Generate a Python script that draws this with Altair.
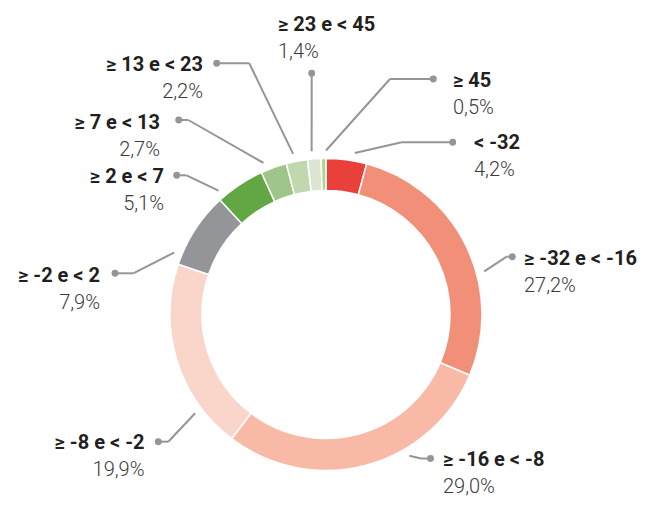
import math
import altair as alt
import pandas as pd

# ---------------- data ----------------
categories = ["< -32", "≥ -32 e < -16", "≥ -16 e < -8", "≥ -8 e < -2", "≥ -2 e < 2",
              "≥ 2 e < 7", "≥ 7 e < 13", "≥ 13 e < 23", "≥ 23 e < 45", "≥ 45"]
shares = [4.2, 27.2, 29.0, 19.9, 7.9, 5.1, 2.7, 2.2, 1.4, 0.5]
colors = ["#e9403b", "#f28f78", "#f8b9a6", "#fad5c9", "#939598",
          "#63a745", "#a0c58b", "#c1d8ae", "#dbe7d2", "#b0d48b"]

# ---------------- layout (page pixels) ----------------
W, H = 631, 490
OFF = 8
CX, CY = 326 - OFF, 314.5 - OFF
R_OUT, R_IN, R_LEAD = 156, 124, 164
label_x = [474, 524, 443, 144.5, 100, 164, 160, 203, 278, 453]
label_y = [149, 265, 466, 449.3, 282.3, 183, 128.7, 71, 31, 87.3]
label_align = ["left", "left", "left", "right", "right", "right", "right", "right", "left", "left"]
dot_x = [452.7, 512.3, 430.5, 158.3, 115, 176.7, 178.7, 216.7, 311.7, 433.3]
dot_y = [142.3, 256.7, 458.5, 441.7, 273.3, 175.3, 120, 63.3, 73.3, 79]
elbow_x = [401.7, 506.7, 421, 168.3, 133.3, 186.5, 188.3, 249.3, 311.7, 390]
lead_frac = [0.67, 0.61, 0.35, 0.22, 0.12, 0.10, 0.21, 0.40, 0.36, 1.0]
PCT_GAP = 27
FONT_SIZE = 20

total = sum(shares)
rows = []
cum = 0.0
for i, (c, v) in enumerate(zip(categories, shares)):
    ang = 2 * math.pi * (cum + lead_frac[i] * v) / total
    rx = CX + R_LEAD * math.sin(ang)
    ry = CY - R_LEAD * math.cos(ang)
    cum += v
    rows.append(dict(
        idx=i, cat=c, share=v,
        pct=f"{v:.1f}%".replace(".", ","),
        tx=label_x[i] - OFF, ty=label_y[i] - OFF, ty2=label_y[i] - OFF + PCT_GAP,
        align=label_align[i],
        dx=dot_x[i] - OFF, dy=dot_y[i] - OFF, ex=elbow_x[i] - OFF,
        rx=rx, ry=ry,
    ))
df = pd.DataFrame(rows)

xs = alt.Scale(domain=[0, W], nice=False, zero=False)
ys = alt.Scale(domain=[0, H], nice=False, zero=False, reverse=True)

donut = alt.Chart(df).mark_arc(
    innerRadius=R_IN, outerRadius=R_OUT, stroke="white", strokeWidth=1.5
).encode(
    theta=alt.Theta("share:Q", stack=True),
    order=alt.Order("idx:Q"),
    color=alt.Color("cat:N", scale=alt.Scale(domain=categories, range=colors), legend=None),
    x=alt.value(CX),
    y=alt.value(CY),
)

seg1 = alt.Chart(df).mark_rule(color="#939598", strokeWidth=2).encode(
    x=alt.X("dx:Q", scale=xs, axis=None),
    y=alt.Y("dy:Q", scale=ys, axis=None),
    x2="ex:Q",
    y2="dy:Q",
)
seg2 = alt.Chart(df).mark_rule(color="#939598", strokeWidth=2).encode(
    x=alt.X("ex:Q", scale=xs, axis=None),
    y=alt.Y("dy:Q", scale=ys, axis=None),
    x2="rx:Q",
    y2="ry:Q",
)
dots = alt.Chart(df).mark_circle(color="#939598", opacity=1, size=48).encode(
    x=alt.X("dx:Q", scale=xs, axis=None),
    y=alt.Y("dy:Q", scale=ys, axis=None),
)

def text_layer(field, yfield, align, weight, color):
    return alt.Chart(df).transform_filter(
        alt.datum.align == align
    ).mark_text(
        align=align, baseline="alphabetic", font="Roboto", fontSize=FONT_SIZE,
        fontWeight=weight, color=color
    ).encode(
        x=alt.X("tx:Q", scale=xs, axis=None),
        y=alt.Y(f"{yfield}:Q", scale=ys, axis=None),
        text=f"{field}:N",
    )

texts = [
    text_layer("cat", "ty", "left", "bold", "#231f20"),
    text_layer("cat", "ty", "right", "bold", "#231f20"),
    text_layer("pct", "ty2", "left", 300, "#3a3a3c"),
    text_layer("pct", "ty2", "right", 300, "#3a3a3c"),
]

chart = alt.layer(donut, seg1, seg2, dots, *texts).properties(
    width=W, height=H, padding=0, autosize=alt.AutoSizeParams(type="none"),
    background="white",
).configure_view(stroke=None)

chart.save("out.html", embed_options={"renderer": "svg", "actions": False})
